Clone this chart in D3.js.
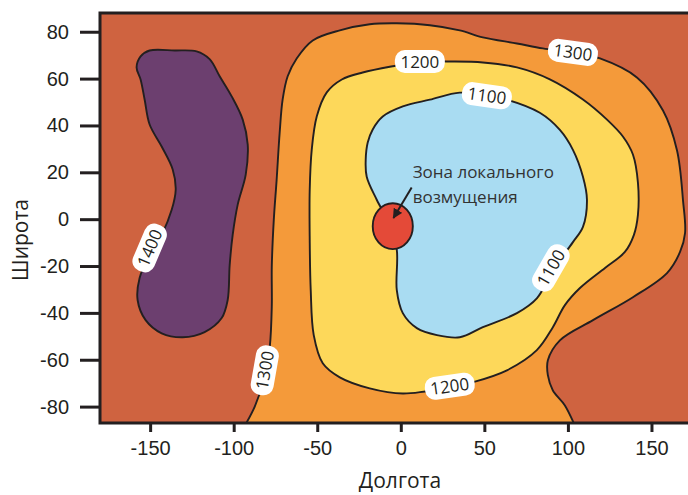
<!DOCTYPE html>
<html lang="ru">
<head>
  <meta charset="UTF-8">
  <title>Зона локального возмущения</title>
  <script src="https://d3js.org/d3.v7.min.js"></script>
  <style>
    body {
      margin: 0;
      background: #ffffff;
      font-family: 'Open Sans', 'Noto Sans', sans-serif;
    }
    .axis text {
      font-size: 20px;
      fill: #231f20;
    }
    .axis line {
      stroke: #231f20;
      stroke-width: 3px;
    }
    .axis path {
      display: none;
    }
    .contour {
      fill: none;
      stroke: #231f20;
      stroke-width: 1.9px;
    }
    .label text {
      font-size: 17px;
      fill: #231f20;
    }
  </style>
</head>
<body>
  <svg width="688" height="495"></svg>

  <script>
    // tick values
    const lonTicks = [-150, -100, -50, 0, 50, 100, 150];
    const latTicks = [-80, -60, -40, -20, 0, 20, 40, 60, 80];

    // contour lines, [longitude, latitude]
    const contour1400 = [
      [-150.3, 72.0], [-135.3, 72.0], [-122.2, 71.6], [-114.4, 68.3], [-108.4, 61.0],
      [-101.2, 52.4], [-94.6, 42.5], [-91.6, 31.8], [-92.8, 19.0], [-97.6, 6.2],
      [-100.6, -6.7], [-102.4, -19.6], [-103.6, -34.5], [-107.2, -42.2], [-117.4, -48.2],
      [-130.5, -50.4], [-143.1, -48.7], [-152.7, -43.1], [-157.5, -34.5], [-156.3, -25.1],
      [-150.3, -15.3], [-143.1, -6.7], [-137.1, 4.0], [-134.7, 12.6], [-136.5, 21.2],
      [-143.1, 31.0], [-150.3, 40.4], [-153.3, 51.1], [-155.7, 59.6], [-158.1, 64.8],
      [-155.7, 69.5]
    ];

    // open line, runs off the bottom edge at both ends
    const contour1300 = [
      [-96.5, -92], [-87.4, -80.0], [-81.4, -67.2], [-78.4, -54.4], [-77.2, -37.3],
      [-77.2, -20.2], [-76.0, -0.3], [-74.3, 16.8], [-72.5, 36.8], [-70.7, 51.1],
      [-67.7, 61.0], [-62.3, 68.6], [-52.7, 76.3], [-36.5, 80.6], [-18.6, 83.2],
      [-2.4, 83.6], [17.4, 82.8], [35.3, 80.6], [49.1, 77.6], [69.5, 75.0],
      [85.0, 72.9], [103.0, 71.2], [119.2, 68.6], [141.3, 60.5], [156.9, 46.4],
      [165.3, 29.3], [168.9, 7.8], [170.1, -5.9], [167.1, -14.0], [159.3, -23.0],
      [138.9, -33.3], [115.0, -43.1], [95.2, -51.7], [88.0, -60.2], [88.0, -66.6],
      [91.0, -73.1], [98.2, -79.5], [106.5, -92]
    ];

    const contour1200 = [
      [11.4, 67.3], [27.5, 67.3], [49.1, 66.9], [69.5, 64.8], [89.2, 59.7],
      [109.0, 51.1], [123.4, 42.5], [132.9, 35.3], [138.9, 27.6], [141.9, 15.6],
      [141.9, 1.8], [139.5, -6.7], [134.1, -14.0], [122.2, -20.8], [107.2, -29.4],
      [98.2, -36.7], [91.0, -46.1], [81.4, -55.9], [63.5, -64.5], [43.1, -69.6],
      [29.3, -71.8], [1.2, -74.4], [-18.6, -72.2], [-36.5, -67.5], [-46.7, -61.5],
      [-52.1, -49.5], [-53.9, -30.3], [-54.5, -8.9], [-54.5, 12.6], [-53.3, 29.6],
      [-50.3, 43.8], [-44.3, 54.1], [-35.3, 59.6], [-22.8, 62.6], [-2.4, 65.6]
    ];

    const contour1100 = [
      [35.3, 54.0], [51.5, 52.7], [63.5, 51.0], [83.2, 45.4], [95.2, 38.1],
      [103.0, 29.6], [109.0, 18.1], [111.4, 8.3], [109.0, -3.3], [103.0, -9.8],
      [91.0, -21.8], [81.4, -33.8], [69.5, -40.1], [49.1, -46.1], [35.3, -50.4],
      [21.6, -49.5], [9.6, -46.5], [1.2, -40.1], [-2.4, -30.3], [-2.4, -13.1],
      [-6.6, -2.4], [-14.4, 8.3], [-20.4, 18.1], [-21.0, 25.4], [-19.8, 32.7],
      [-16.8, 38.3], [-10.8, 43.8], [1.2, 48.1], [17.4, 51.0]
    ];

    // contour labels: value, lon, lat, rotation
    const labelValues = [1300, 1200, 1100, 1400, 1300, 1200, 1100];
    const labelLon = [103.0, 11.4, 51.5, -150.3, -81.4, 29.3, 89.8];
    const labelLat = [71.2, 67.3, 52.7, -12.3, -64.5, -71.3, -20.8];
    const labelAngle = [8, 0, 8, -67, -80, -8, -60];

    // local disturbance zone: centre and half-axes in degrees
    const zoneCenter = [-4.8, -3.0];
    const zoneRadius = [12.0, 9.8];
    const arrowFrom = [6.5, 13.5];
    const arrowTo = [-4.4, 0.5];

    const svg = d3.select("svg");
    const plotLeft = 100, plotTop = 13, plotRight = 701.6, plotBottom = 423;

    const x = d3.scaleLinear().domain([-180, 180]).range([plotLeft, plotRight]);
    const y = d3.scaleLinear().domain([-87, 88]).range([plotBottom, plotTop]);

    const colors = {
      outer: "#cf6340",
      c1300: "#f49a3a",
      c1200: "#fdd85a",
      c1100: "#a9dcf2",
      c1400: "#6c3f6f",
      zone: "#e44a38"
    };

    const defs = svg.append("defs");
    defs.append("clipPath").attr("id", "plot-clip")
      .append("rect")
      .attr("x", plotLeft).attr("y", plotTop)
      .attr("width", plotRight - plotLeft).attr("height", plotBottom - plotTop);

    defs.append("marker")
      .attr("id", "arrow")
      .attr("viewBox", "0 0 10 10")
      .attr("refX", 9).attr("refY", 5)
      .attr("markerWidth", 5).attr("markerHeight", 5)
      .attr("markerUnits", "strokeWidth")
      .attr("orient", "auto")
      .append("path")
      .attr("d", "M0,0L10,5L0,10Z")
      .attr("fill", "#231f20");

    const plot = svg.append("g").attr("clip-path", "url(#plot-clip)");

    plot.append("rect")
      .attr("x", plotLeft).attr("y", plotTop)
      .attr("width", plotRight - plotLeft).attr("height", plotBottom - plotTop)
      .attr("fill", colors.outer);

    const closedLine = d3.line()
      .x(d => x(d[0])).y(d => y(d[1]))
      .curve(d3.curveCatmullRomClosed.alpha(0.5));
    const openLine = d3.line()
      .x(d => x(d[0])).y(d => y(d[1]))
      .curve(d3.curveCatmullRom.alpha(0.5));

    // fills
    plot.append("path").attr("d", openLine(contour1300) + "Z").attr("fill", colors.c1300);
    plot.append("path").attr("d", closedLine(contour1200)).attr("fill", colors.c1200);
    plot.append("path").attr("d", closedLine(contour1100)).attr("fill", colors.c1100);
    plot.append("path").attr("d", closedLine(contour1400)).attr("fill", colors.c1400);

    // lines
    plot.append("path").attr("class", "contour").attr("d", openLine(contour1300));
    plot.append("path").attr("class", "contour").attr("d", closedLine(contour1200));
    plot.append("path").attr("class", "contour").attr("d", closedLine(contour1100));
    plot.append("path").attr("class", "contour").attr("d", closedLine(contour1400));

    // zone of local disturbance
    plot.append("ellipse")
      .attr("cx", x(zoneCenter[0]))
      .attr("cy", y(zoneCenter[1]))
      .attr("rx", x(zoneCenter[0] + zoneRadius[0]) - x(zoneCenter[0]))
      .attr("ry", y(zoneCenter[1]) - y(zoneCenter[1] + zoneRadius[1]))
      .attr("fill", colors.zone)
      .attr("stroke", "#231f20")
      .attr("stroke-width", 1.9);

    plot.append("line")
      .attr("x1", x(arrowFrom[0])).attr("y1", y(arrowFrom[1]))
      .attr("x2", x(arrowTo[0])).attr("y2", y(arrowTo[1]))
      .attr("stroke", "#231f20")
      .attr("stroke-width", 2)
      .attr("marker-end", "url(#arrow)");

    const note = plot.append("text")
      .attr("x", x(arrowFrom[0]) + 1)
      .attr("y", y(0) - 41)
      .style("font-size", "17px")
      .attr("fill", "#333333");
    note.append("tspan").text("Зона локального");
    note.append("tspan").attr("x", x(arrowFrom[0]) + 1).attr("dy", 25).text("возмущения");

    // contour labels
    const labels = plot.selectAll(".label")
      .data(labelValues.map((v, i) => ({ v, lon: labelLon[i], lat: labelLat[i], a: labelAngle[i] })))
      .enter()
      .append("g")
      .attr("class", "label")
      .attr("transform", d => `translate(${x(d.lon)},${y(d.lat)}) rotate(${d.a})`);

    labels.append("rect")
      .attr("x", -25).attr("y", -11.5)
      .attr("width", 50).attr("height", 23)
      .attr("rx", 10)
      .attr("fill", "#ffffff");

    labels.append("text")
      .attr("text-anchor", "middle")
      .attr("dy", "0.36em")
      .text(d => d.v);

    // frame
    svg.append("rect")
      .attr("x", plotLeft).attr("y", plotTop)
      .attr("width", plotRight - plotLeft).attr("height", plotBottom - plotTop)
      .attr("fill", "none")
      .attr("stroke", "#231f20")
      .attr("stroke-width", 3);

    // axes (plain hyphen for negatives, as in the source figure)
    svg.append("g")
      .attr("class", "axis")
      .attr("transform", `translate(${plotLeft},0)`)
      .call(d3.axisLeft(y).tickValues(latTicks).tickSize(20).tickPadding(11)
        .tickFormat(d => String(d)));

    svg.append("g")
      .attr("class", "axis")
      .attr("transform", `translate(0,${plotBottom})`)
      .call(d3.axisBottom(x).tickValues(lonTicks).tickSize(9).tickPadding(9)
        .tickFormat(d => String(d)));

    svg.append("text")
      .attr("x", 400)
      .attr("y", 488)
      .attr("text-anchor", "middle")
      .style("font-size", "21px")
      .attr("fill", "#231f20")
      .text("Долгота");

    svg.append("text")
      .attr("transform", "translate(28,240) rotate(-90)")
      .attr("text-anchor", "middle")
      .style("font-size", "21px")
      .attr("fill", "#231f20")
      .text("Широта");
  </script>
</body>
</html>
